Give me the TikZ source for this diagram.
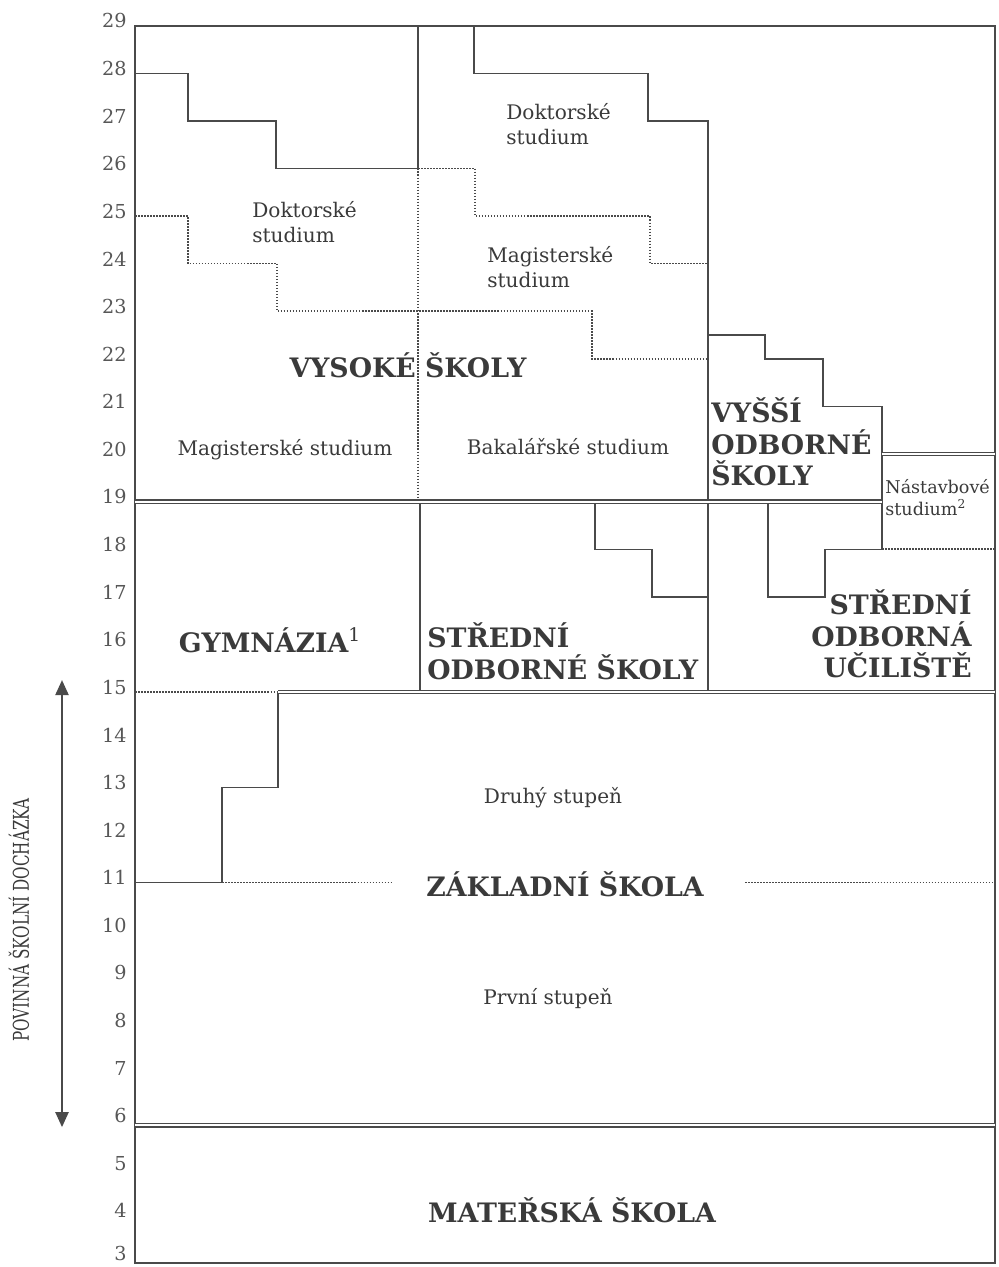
\documentclass[tikz,border=0pt]{standalone}
\usepackage{fontspec}
\setmainfont{DejaVu Serif}
\usepackage{graphicx}
\usetikzlibrary{arrows.meta,positioning}
\definecolor{ink}{HTML}{3A3A3A}
\definecolor{rule}{HTML}{4A4A4A}

\begin{document}
\begin{tikzpicture}[x=0.021008cm, y=1cm,
    outline/.style={draw=rule, line width=1.4pt},
    wall/.style={draw=rule, line width=0.8pt},
    dbl/.style={draw=rule, double=white, double distance=1.1pt, line width=0.85pt},
    dotline/.style={draw=rule, line width=1pt, dash pattern=on 0.9pt off 0.9pt},
    bigtxt/.style={font=\fontsize{16}{18.8}\selectfont\bfseries, text=ink, inner sep=0pt},
    smalltxt/.style={font=\fontsize{12}{15}\selectfont, text=ink, inner sep=0pt},
    tinytxt/.style={font=\fontsize{10.5}{13}\selectfont, text=ink, inner sep=0pt},
    agetxt/.style={font=\fontsize{11.5}{12}\selectfont, text=ink!85, inner sep=0pt, anchor=east}
]
    \useasboundingbox (0,2.92) rectangle (998,29.54);

    \foreach \a in {4,...,29}
        \node[agetxt] (age\a) at (127,\a+0.1) {\a};
    \node[agetxt] (age3) at (127,3.2) {3};

    \draw[outline] (135,3) rectangle (995,29);

    % vysoke skoly
    \draw[wall] (418,29) -- (418,26);
    \draw[dotline] (418,26) -- (418,19);
    \draw[wall] (135,28) -- (188,28) -- (188,27) -- (276,27) -- (276,26) -- (418,26);
    \draw[dotline] (135,25) -- (188,25) -- (188,24) -- (277,24) -- (277,23) -- (592,23) -- (592,22) -- (708,22);
    \draw[wall] (474,29) -- (474,28) -- (648,28) -- (648,27) -- (708,27) -- (708,15);
    \draw[dotline] (418,26) -- (475,26) -- (475,25) -- (650,25) -- (650,24) -- (708,24);
    \draw[wall] (708,22.5) -- (765,22.5) -- (765,22) -- (823,22) -- (823,21) -- (882,21) -- (882,18)
        -- (825,18) -- (825,17) -- (768,17) -- (768,19);
    \draw[dotline] (882,18) -- (995,18);

    % stredni skoly
    \draw[wall] (420,19) -- (420,15);
    \draw[wall] (595,19) -- (595,18) -- (652,18) -- (652,17) -- (708,17);

    % zakladni skola
    \draw[dotline] (135,15) -- (278,15);
    \draw[wall] (278,15) -- (278,13) -- (222,13) -- (222,11) -- (135,11);
    \draw[dotline] (222,11) -- (392,11);
    \draw[dotline] (745,11) -- (995,11);

    \draw[dbl] (135,19) -- (882,19);
    \draw[dbl] (882,20) -- (995,20);
    \draw[dbl] (278,15) -- (995,15);
    \draw[dbl] (135,5.9) -- (995,5.9);

    \node[smalltxt, align=left, anchor=west] (doktL) at (252,24.88) {Doktorské\\studium};
    \node[smalltxt, align=left, anchor=west] (doktM) at (506,26.94) {Doktorské\\studium};
    \node[smalltxt, align=left, anchor=west] (magM) at (487,23.93) {Magisterské\\studium};
    \node[bigtxt] (vs) at (408,21.87) {VYSOKÉ ŠKOLY};
    \node[smalltxt] (magL) at (285,20.09) {Magisterské studium};
    \node[smalltxt] (bak) at (568,20.15) {Bakalářské studium};
    \node[bigtxt, align=left, anchor=west] (vos) at (711,20.25) {VYŠŠÍ\\ODBORNÉ\\ŠKOLY};
    \node[tinytxt, align=left, anchor=west] (nast) at (885,19.08) {Nástavbové\\studium\textsuperscript{2}};
    \node[bigtxt] (gym) at (270,16.09) {GYMNÁZIA\textsuperscript{\normalfont 1}};
    \node[bigtxt, align=left, anchor=west] (sos) at (427,15.86) {STŘEDNÍ\\ODBORNÉ ŠKOLY};
    \node[bigtxt, align=right, anchor=east] (sou) at (972,16.22) {STŘEDNÍ\\ODBORNÁ\\UČILIŠTĚ};
    \node[smalltxt] (druhy) at (553,12.78) {Druhý stupeň};
    \node[bigtxt] (zs) at (565,10.97) {ZÁKLADNÍ ŠKOLA};
    \node[smalltxt] (prvni) at (548,8.57) {První stupeň};
    \node[bigtxt] (ms) at (572,4.12) {MATEŘSKÁ ŠKOLA};

    \node[font=\fontsize{13}{13}\selectfont, text=ink, inner sep=0pt, rotate=90] (povinna) at (19,10.21)
        {\scalebox{0.7}[1]{POVINNÁ ŠKOLNÍ DOCHÁZKA}};
    \coordinate (arrtop) at (62,15.25);
    \coordinate (arrbot) at (62,5.86);
    \draw[rule, line width=0.8pt, {Triangle[length=9pt,width=8pt]}-{Triangle[length=9pt,width=8pt]}] (arrtop) -- (arrbot);
\end{tikzpicture}
\end{document}
